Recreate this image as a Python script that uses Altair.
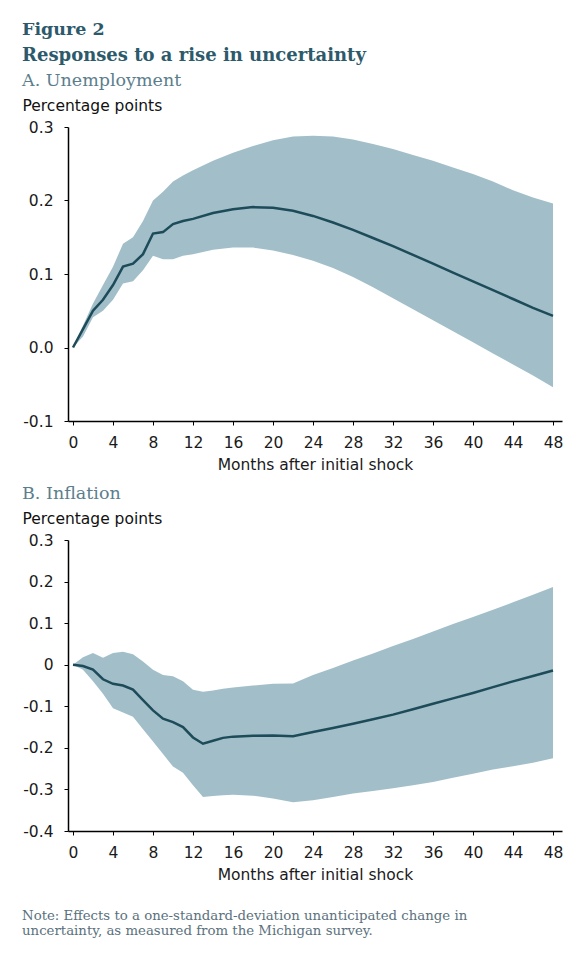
import altair as alt
import pandas as pd

# ---- Panel A: Unemployment ----
months_a = [0, 1, 2, 3, 4, 5, 6, 7, 8, 9, 10, 11, 12, 14, 16, 18, 20, 22, 24, 26,
            28, 30, 32, 34, 36, 38, 40, 42, 44, 46, 48]
unemp_mid = [0.0, 0.025, 0.05, 0.065, 0.085, 0.11, 0.114, 0.127, 0.155, 0.157, 0.168,
             0.172, 0.175, 0.183, 0.188, 0.191, 0.19, 0.186, 0.179, 0.17, 0.16, 0.149,
             0.138, 0.126, 0.114, 0.102, 0.09, 0.078, 0.066, 0.054, 0.043]
unemp_hi = [0.0, 0.03, 0.06, 0.085, 0.11, 0.141, 0.15, 0.172, 0.2, 0.212, 0.226, 0.234,
            0.241, 0.254, 0.265, 0.274, 0.282, 0.287, 0.288, 0.287, 0.283, 0.277, 0.27,
            0.262, 0.254, 0.245, 0.236, 0.226, 0.214, 0.204, 0.196]
unemp_lo = [0.0, 0.015, 0.041, 0.05, 0.065, 0.087, 0.09, 0.105, 0.125, 0.12, 0.12, 0.125,
            0.127, 0.133, 0.136, 0.136, 0.132, 0.126, 0.118, 0.108, 0.096, 0.082, 0.067,
            0.052, 0.037, 0.022, 0.007, -0.008, -0.023, -0.038, -0.054]

# ---- Panel B: Inflation ----
months_b = [0, 1, 2, 3, 4, 5, 6, 7, 8, 9, 10, 11, 12, 13, 14, 15, 16, 18, 20, 22, 24,
            26, 28, 30, 32, 34, 36, 38, 40, 42, 44, 46, 48]
infl_mid = [0.0, -0.003, -0.012, -0.035, -0.046, -0.05, -0.06, -0.085, -0.11, -0.13,
            -0.138, -0.15, -0.175, -0.19, -0.183, -0.176, -0.173, -0.171, -0.17, -0.172,
            -0.162, -0.152, -0.142, -0.131, -0.12, -0.107, -0.094, -0.081, -0.068, -0.054,
            -0.04, -0.027, -0.014]
infl_hi = [0.0, 0.018, 0.028, 0.017, 0.028, 0.031, 0.025, 0.008, -0.012, -0.025, -0.028,
           -0.04, -0.06, -0.065, -0.062, -0.058, -0.055, -0.05, -0.046, -0.045, -0.025,
           -0.008, 0.01, 0.027, 0.045, 0.062, 0.08, 0.098, 0.115, 0.132, 0.15, 0.168, 0.187]
infl_lo = [0.0, -0.012, -0.04, -0.07, -0.105, -0.115, -0.125, -0.155, -0.185, -0.215,
           -0.245, -0.26, -0.29, -0.318, -0.316, -0.314, -0.313, -0.315, -0.322, -0.331,
           -0.326, -0.318, -0.31, -0.304, -0.297, -0.29, -0.282, -0.272, -0.262, -0.252,
           -0.244, -0.236, -0.225]

x_ticks = list(range(0, 49, 4))
ticks_a = [-0.1, 0.0, 0.1, 0.2, 0.3]
ticks_b = [-0.4, -0.3, -0.2, -0.1, 0.0, 0.1, 0.2, 0.3]

note_lines = ["Note: Effects to a one-standard-deviation unanticipated change in",
              "uncertainty, as measured from the Michigan survey."]

BAND = "#a2bfc9"
LINE = "#1d4b59"
SANS = "DejaVu Sans"
SERIF = "DejaVu Serif"
FS = 15.5

df_a = pd.DataFrame({"m": months_a, "mid": unemp_mid, "hi": unemp_hi, "lo": unemp_lo})
df_b = pd.DataFrame({"m": months_b, "mid": infl_mid, "hi": infl_hi, "lo": infl_lo})
df_note = pd.DataFrame({"i": [0, 1], "t": note_lines})


def panel(df, title, ydom, yticks, height, label_expr):
    xenc = alt.X("m:Q", scale=alt.Scale(domain=[-0.5, 48.9], nice=False, zero=False),
                 axis=alt.Axis(values=x_ticks, title="Months after initial shock",
                               grid=False, domainColor="black", tickColor="black",
                               tickSize=4, labelPadding=10, titlePadding=7,
                               labelFont=SANS, labelFontSize=FS, labelColor="#1a1a1a",
                               titleFont=SANS, titleFontSize=FS, titleFontWeight="normal",
                               titleColor="#1a1a1a", domainWidth=1.5))
    yaxis = alt.Axis(values=yticks, title="Percentage points", grid=False,
                     domainColor="black", tickColor="black", tickSize=4, labelPadding=11,
                     labelExpr=label_expr, labelFont=SANS, labelFontSize=FS,
                     labelColor="#1a1a1a", titleFont=SANS, titleFontSize=FS,
                     titleFontWeight="normal", titleColor="#111", titleAngle=0,
                     titleAlign="left", titleBaseline="alphabetic", titleX=-46,
                     titleY=-17, domainWidth=1.5)
    base = alt.Chart(df)
    area = base.mark_area(color=BAND, opacity=1).encode(
        x=xenc,
        y=alt.Y("lo:Q", scale=alt.Scale(domain=ydom, nice=False, zero=False), axis=yaxis),
        y2="hi:Q",
    )
    line = base.mark_line(color=LINE, strokeWidth=2.5).encode(x="m:Q", y="mid:Q")
    return alt.layer(area, line).properties(
        width=494, height=height,
        title=alt.TitleParams(title, anchor="start", font=SERIF, fontSize=17.5,
                              fontWeight="normal", color="#5b7e8c", offset=9),
    )


lab_a = "(datum.value < 0 ? '-' : '') + format(abs(datum.value), '.1f')"
lab_b = "datum.value == 0 ? '0' : (datum.value < 0 ? '-' : '') + format(abs(datum.value), '.1f')"

chart_a = panel(df_a, "A. Unemployment", [-0.1, 0.3], ticks_a, 294, lab_a)
chart_b = panel(df_b, "B. Inflation", [-0.4, 0.3], ticks_b, 291, lab_b)

note = alt.Chart(df_note).mark_text(
    align="left", baseline="alphabetic", font=SERIF, fontSize=13.3, color="#5a717d"
).encode(
    x=alt.value(-46),
    y=alt.Y("i:O", axis=None),
    text="t:N",
).properties(width=494, height=30)

panels = alt.vconcat(chart_a, chart_b, spacing=11)

chart = alt.vconcat(panels, note, spacing=25).properties(
    title=alt.TitleParams(
        "Figure 2", subtitle="Responses to a rise in uncertainty", anchor="start",
        font=SERIF, fontSize=17.5, fontWeight="bold", color="#2c5a6b",
        subtitleFont=SERIF, subtitleFontSize=18, subtitleFontWeight="bold",
        subtitleColor="#2c5a6b", subtitlePadding=8, offset=7,
    ),
    padding={"left": 14, "top": 13, "right": 8, "bottom": 5},
    background="white",
).configure_view(stroke="transparent", strokeWidth=0)

chart.save("out.html", embed_options={"renderer": "svg", "actions": False})
